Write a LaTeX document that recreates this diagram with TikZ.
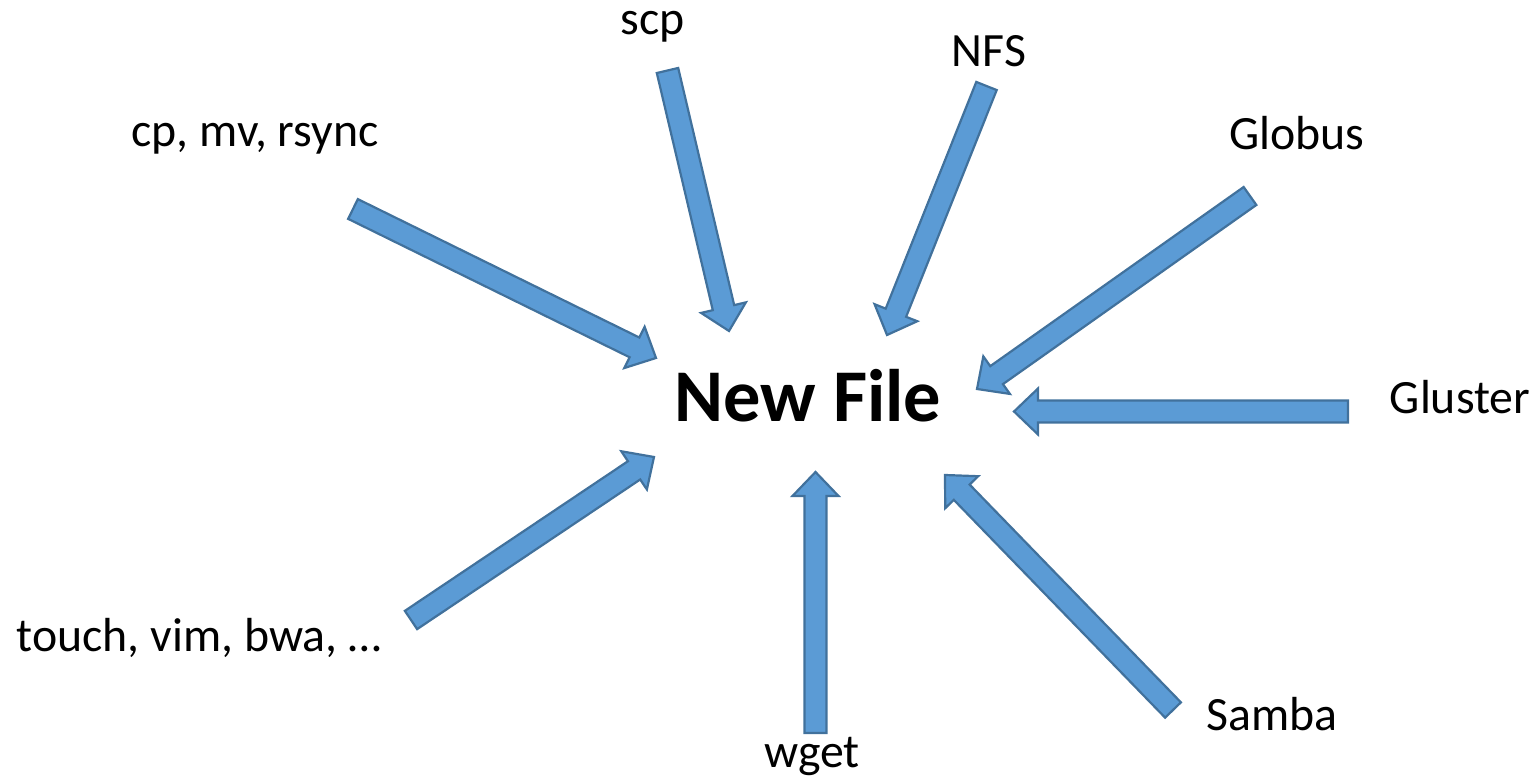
\documentclass[tikz,border=0pt]{standalone}
\usepackage{fontspec}
\setmainfont{Carlito}
\usetikzlibrary{calc}

\definecolor{arrowfill}{HTML}{5B9BD5}
\definecolor{arrowline}{HTML}{41719C}

% block arrow from tail #1 to tip #2
\newcommand{\blockarrow}[2]{%
  \coordinate (#1-h) at ($(#2)!12pt!(#1)$);
  \draw[blockarrow] ($(#1)!5.5pt!90:(#2)$) -- ($(#1-h)!5.5pt!90:(#2)$)
    -- ($(#1-h)!11.5pt!90:(#2)$) -- (#2) -- ($(#1-h)!11.5pt!-90:(#2)$)
    -- ($(#1-h)!5.5pt!-90:(#2)$) -- ($(#1)!5.5pt!-90:(#2)$) -- cycle;}

\begin{document}
\begin{tikzpicture}[
        x=0.5pt, y=-0.5pt,
        tool/.style={inner sep=0pt, anchor=base, font=\fontsize{23.9}{29}\selectfont},
        title/.style={inner sep=0pt, anchor=base, font=\fontsize{37.2}{45}\selectfont\bfseries},
        blockarrow/.style={draw=arrowline, fill=arrowfill, line width=1.1pt}
    ]
        \useasboundingbox (0,0) rectangle (1537,779);

        % Centre
        \node[title] (newfile) at (808,422) {New File};

        % Tools
        \node[tool] (cp) at (255,147) {cp, mv, rsync};
        \node[tool] (scp) at (653,35) {scp};
        \node[tool] (nfs) at (989,67) {NFS};
        \node[tool] (globus) at (1297,150) {Globus};
        \node[tool] (gluster) at (1460,414) {Gluster};
        \node[tool] (samba) at (1272,731) {Samba};
        \node[tool] (wget) at (812,768) {wget};
        \node[tool] (touch) at (199,652) {touch, vim, bwa, …};

        % Arrow ends
        \coordinate (cp-tail) at (353,209);
        \coordinate (cp-tip) at (656,358);
        \coordinate (scp-tail) at (667.5,70.5);
        \coordinate (scp-tip) at (729,331);
        \coordinate (nfs-tail) at (986.5,86);
        \coordinate (nfs-tip) at (887,335);
        \coordinate (globus-tail) at (1250,196);
        \coordinate (globus-tip) at (977,389);
        \coordinate (gluster-tail) at (1348,411.5);
        \coordinate (gluster-tip) at (1014,411.5);
        \coordinate (samba-tail) at (1173,710);
        \coordinate (samba-tip) at (945,475);
        \coordinate (wget-tail) at (815.5,733);
        \coordinate (wget-tip) at (815.5,472);
        \coordinate (touch-tail) at (411,620);
        \coordinate (touch-tip) at (654,457);

        % Arrows
        \blockarrow{cp-tail}{cp-tip}
        \blockarrow{scp-tail}{scp-tip}
        \blockarrow{nfs-tail}{nfs-tip}
        \blockarrow{globus-tail}{globus-tip}
        \blockarrow{gluster-tail}{gluster-tip}
        \blockarrow{samba-tail}{samba-tip}
        \blockarrow{wget-tail}{wget-tip}
        \blockarrow{touch-tail}{touch-tip}
    \end{tikzpicture}
\end{document}
